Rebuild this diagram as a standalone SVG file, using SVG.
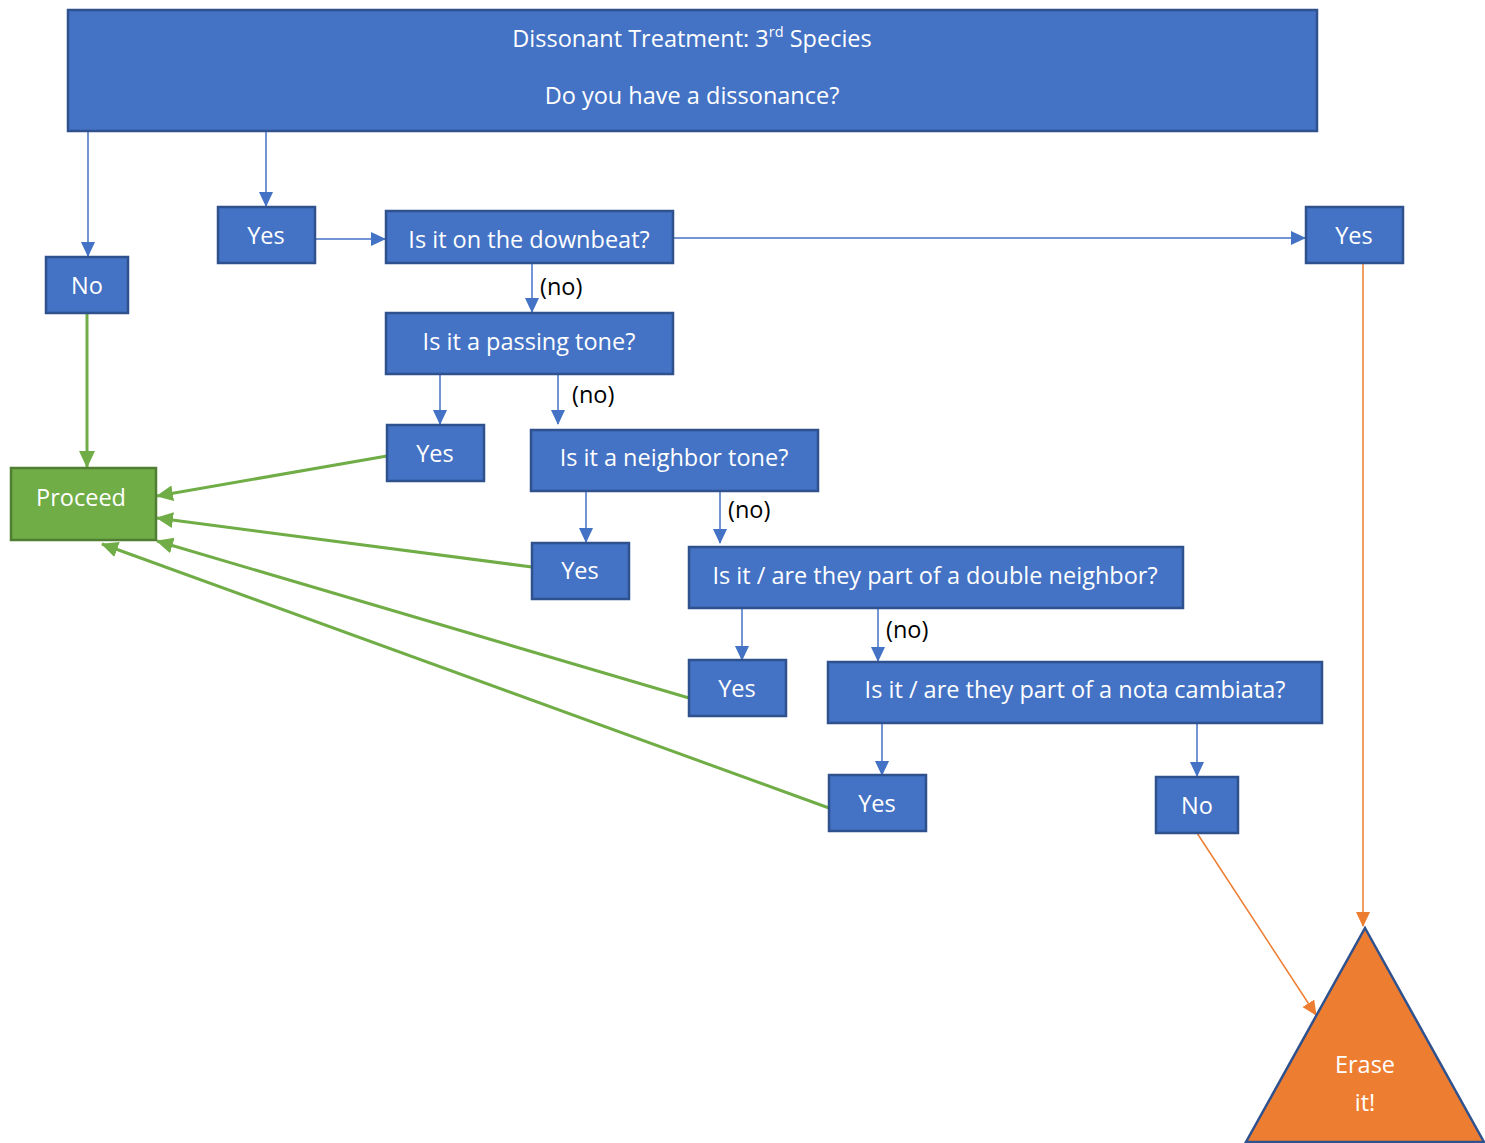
<svg xmlns="http://www.w3.org/2000/svg" width="1485" height="1143" viewBox="0 0 1485 1143">
<style>
.b{fill:#4472C4;stroke:#2F528F;stroke-width:2.5}
.g{fill:#70AD47;stroke:#507E32;stroke-width:2.5}
.o{fill:#ED7D31;stroke:#2F528F;stroke-width:2.5}
.t{font-family:"Open Sans","Liberation Sans",Arial,sans-serif;font-size:23.5px;fill:#fff;text-anchor:middle;dominant-baseline:central}
.l{font-family:"Open Sans","Liberation Sans",Arial,sans-serif;font-size:23.5px;fill:#000;dominant-baseline:central}
.cb{stroke:#4472C4;stroke-width:1.5;fill:none;marker-end:url(#ab)}
.cg{stroke:#70AD47;stroke-width:3;fill:none;marker-end:url(#ag)}
.co{stroke:#ED7D31;stroke-width:1.5;fill:none;marker-end:url(#ao)}
</style>
<defs>
<marker id="ab" markerUnits="userSpaceOnUse" markerWidth="16" markerHeight="16" viewBox="0 0 16 16" refX="14" refY="8" orient="auto"><path d="M0,1 L15,8 L0,15 z" fill="#4472C4"/></marker>
<marker id="ag" markerUnits="userSpaceOnUse" markerWidth="18" markerHeight="18" viewBox="0 0 18 18" refX="16" refY="9" orient="auto"><path d="M0,1 L17,9 L0,17 z" fill="#70AD47"/></marker>
<marker id="ao" markerUnits="userSpaceOnUse" markerWidth="16" markerHeight="16" viewBox="0 0 16 16" refX="14" refY="8" orient="auto"><path d="M0,1 L15,8 L0,15 z" fill="#ED7D31"/></marker>
</defs>
<g id="connectors">
<path class="cb" d="M88,131 V256"/>
<path class="cb" d="M266,131 V206"/>
<path class="cb" d="M315,239 H385"/>
<path class="cb" d="M673,238 H1305"/>
<path class="cb" d="M532,263 V312"/>
<path class="cb" d="M440,374 V424"/>
<path class="cb" d="M558,374 V424"/>
<path class="cb" d="M586,491 V542"/>
<path class="cb" d="M720,491 V543"/>
<path class="cb" d="M742,608 V660"/>
<path class="cb" d="M878,608 V661"/>
<path class="cb" d="M882,723 V775"/>
<path class="cb" d="M1197,723 V776"/>
<path class="cg" d="M87,313 V467"/>
<path class="cg" d="M387,456 L157,496"/>
<path class="cg" d="M532,567 L157,518"/>
<path class="cg" d="M689,698 L157,541"/>
<path class="cg" d="M829,808 L102,544"/>
<path class="co" d="M1363,263 V926"/>
<path class="co" d="M1197,833 L1316,1015"/>
<text class="l" x="540" y="286">(no)</text>
<text class="l" x="572" y="394">(no)</text>
<text class="l" x="728" y="509">(no)</text>
<text class="l" x="886" y="629">(no)</text>
</g>
<g id="title"><rect class="b" x="68" y="10" width="1249" height="121"/>
<text class="t" x="692" y="38">Dissonant Treatment: 3<tspan font-size="14.5" dy="-7">rd</tspan><tspan dy="7"> Species</tspan></text>
<text class="t" x="692" y="95">Do you have a dissonance?</text></g>
<g id="no1"><rect class="b" x="46" y="257" width="82" height="56"/><text class="t" x="87" y="285">No</text></g>
<g id="yes1"><rect class="b" x="218" y="207" width="97" height="56"/><text class="t" x="266" y="235">Yes</text></g>
<g id="downbeat"><rect class="b" x="386" y="211" width="287" height="52"/><text class="t" x="529" y="239">Is it on the downbeat?</text></g>
<g id="yes2"><rect class="b" x="1306" y="207" width="97" height="56"/><text class="t" x="1354" y="235">Yes</text></g>
<g id="passing"><rect class="b" x="386" y="313" width="287" height="61"/><text class="t" x="529" y="341">Is it a passing tone?</text></g>
<g id="yes3"><rect class="b" x="387" y="425" width="97" height="56"/><text class="t" x="435" y="453">Yes</text></g>
<g id="neighbor"><rect class="b" x="531" y="430" width="287" height="61"/><text class="t" x="674" y="457">Is it a neighbor tone?</text></g>
<g id="yes4"><rect class="b" x="532" y="543" width="97" height="56"/><text class="t" x="580" y="570">Yes</text></g>
<g id="double"><rect class="b" x="689" y="547" width="494" height="61"/><text class="t" x="935" y="575">Is it / are they part of a double neighbor?</text></g>
<g id="yes5"><rect class="b" x="689" y="660" width="97" height="56"/><text class="t" x="737" y="688">Yes</text></g>
<g id="cambiata"><rect class="b" x="828" y="662" width="494" height="61"/><text class="t" x="1075" y="689">Is it / are they part of a nota cambiata?</text></g>
<g id="yes6"><rect class="b" x="829" y="775" width="97" height="56"/><text class="t" x="877" y="803">Yes</text></g>
<g id="no2"><rect class="b" x="1156" y="777" width="82" height="56"/><text class="t" x="1197" y="805">No</text></g>
<g id="proceed"><rect class="g" x="11" y="468" width="145" height="72"/><text class="t" x="81" y="497" font-size="29.5">Proceed</text></g>
<g id="erase"><path class="o" d="M1365,928 L1484,1142 L1246,1142 Z"/><text class="t" x="1365" y="1064" font-size="29">Erase</text><text class="t" x="1365" y="1102" font-size="29">it!</text></g>
</svg>
